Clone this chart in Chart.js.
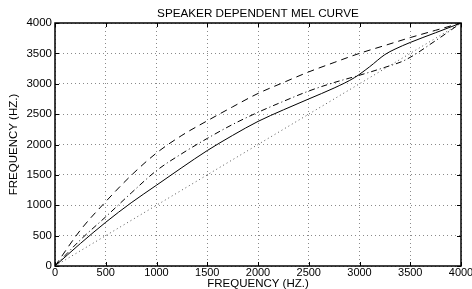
<!DOCTYPE html>
<html><head><meta charset="utf-8">
<script src="https://cdn.jsdelivr.net/npm/chart.js@4/dist/chart.umd.min.js"></script>
<style>html,body{margin:0;padding:0;background:#fff;}canvas{display:block}</style>
</head><body>
<canvas id="c" width="472" height="289"></canvas>
<script>
// ---- data ----
const tickValues = [0, 500, 1000, 1500, 2000, 2500, 3000, 3500, 4000];

const solidX = [0, 250, 500, 750, 1000, 1250, 1500, 1750, 2000, 2250, 2500, 2750, 2950, 3100, 3250, 3350, 3500, 3750, 4000];
const solidY = [0, 370, 720, 1040, 1330, 1620, 1900, 2150, 2380, 2570, 2750, 2930, 3100, 3280, 3480, 3570, 3680, 3840, 4000];

const dashedX = [0, 250, 500, 750, 1000, 1250, 1500, 1750, 2000, 2250, 2500, 2750, 3000, 3250, 3500, 3750, 4000];
const dashedY = [0, 590, 1060, 1490, 1860, 2150, 2390, 2620, 2840, 3020, 3195, 3350, 3500, 3630, 3760, 3880, 4000];

const dashdotX = [0, 250, 500, 750, 1000, 1250, 1500, 1750, 2000, 2250, 2500, 2750, 3000, 3250, 3450, 3750, 4000];
const dashdotY = [0, 430, 810, 1200, 1570, 1850, 2100, 2330, 2530, 2710, 2880, 3020, 3140, 3270, 3390, 3710, 4000];

const dottedX = [0, 4000];
const dottedY = [0, 4000];

const titleText = 'SPEAKER DEPENDENT MEL CURVE';
const xTitle = 'FREQUENCY (HZ.)';
const yTitle = 'FREQUENCY (HZ.)';

const pts = (xs, ys) => xs.map((v, i) => ({x: v, y: ys[i]}));

Chart.defaults.font.family = "'Liberation Sans', Arial, Helvetica, sans-serif";
Chart.defaults.color = '#000';

const frame = {
  id: 'frame',
  afterDatasetsDraw(chart) {
    const {ctx, chartArea: a, scales: {x, y}} = chart;
    ctx.save();
    ctx.strokeStyle = '#000';
    ctx.lineWidth = 1;
    ctx.beginPath();
    tickValues.forEach(v => {
      const px = Math.round(x.getPixelForValue(v)) + 0.5;
      ctx.moveTo(px, a.bottom); ctx.lineTo(px, a.bottom - 4);
      ctx.moveTo(px, a.top); ctx.lineTo(px, a.top + 4);
      const py = Math.round(y.getPixelForValue(v)) + 0.5;
      ctx.moveTo(a.left, py); ctx.lineTo(a.left + 4, py);
      ctx.moveTo(a.right, py); ctx.lineTo(a.right - 4, py);
    });
    ctx.stroke();
    ctx.lineWidth = 1.5;
    ctx.strokeRect(a.left, a.top, a.right - a.left, a.bottom - a.top);
    ctx.restore();
  }
};

const lineDs = (data, dash, color) => ({
  data, borderColor: color, borderWidth: 1, borderDash: dash,
  pointRadius: 0, showLine: true, fill: false,
  cubicInterpolationMode: 'monotone'
});

new Chart(document.getElementById('c'), {
  type: 'scatter',
  data: {
    datasets: [
      lineDs(pts(dottedX, dottedY), [1, 3], '#555'),
      lineDs(pts(dashdotX, dashdotY), [6, 3, 1, 3], '#000'),
      lineDs(pts(dashedX, dashedY), [7, 5], '#000'),
      lineDs(pts(solidX, solidY), [], '#000')
    ]
  },
  options: {
    responsive: false,
    animation: false,
    layout: {padding: {left: 0, right: 11, top: 0, bottom: 0}},
    plugins: {legend: {display: false}, title: {display: false}, tooltip: {enabled: false}},
    scales: {
      x: {
        type: 'linear', position: 'bottom', min: 0, max: 4000,
        ticks: {stepSize: 500, autoSkip: false, maxRotation: 0, padding: 0, font: {size: 11}, color: '#000',
                callback: v => String(v)},
        grid: {color: '#8a8a8a', drawTicks: false, lineWidth: 1},
        border: {display: false, dash: [1, 3]},
        title: {display: true, text: xTitle, font: {size: 11.5}, padding: {top: 0, bottom: -2}},
        afterFit(s) { s.height = 23; s.paddingLeft = 0; s.paddingRight = 0; }
      },
      x2: {
        type: 'linear', position: 'top', min: 0, max: 4000,
        ticks: {display: false},
        grid: {display: false, drawTicks: false},
        border: {display: false},
        title: {display: true, text: titleText, font: {size: 11.7}, padding: {top: 6.4, bottom: 0}},
        afterFit(s) { s.height = 23; s.paddingLeft = 0; s.paddingRight = 0; }
      },
      y: {
        type: 'linear', position: 'left', min: 0, max: 4000,
        ticks: {stepSize: 500, autoSkip: false, padding: 3, font: {size: 11.5}, color: '#000',
                callback: v => String(v)},
        grid: {color: '#8a8a8a', drawTicks: false, lineWidth: 1},
        border: {display: false, dash: [1, 3]},
        title: {display: true, text: yTitle, font: {size: 11.5}, padding: {top: 7.4, bottom: 0}},
        afterFit(s) { s.width = 55; }
      }
    }
  },
  plugins: [frame]
});
</script>
</body></html>
